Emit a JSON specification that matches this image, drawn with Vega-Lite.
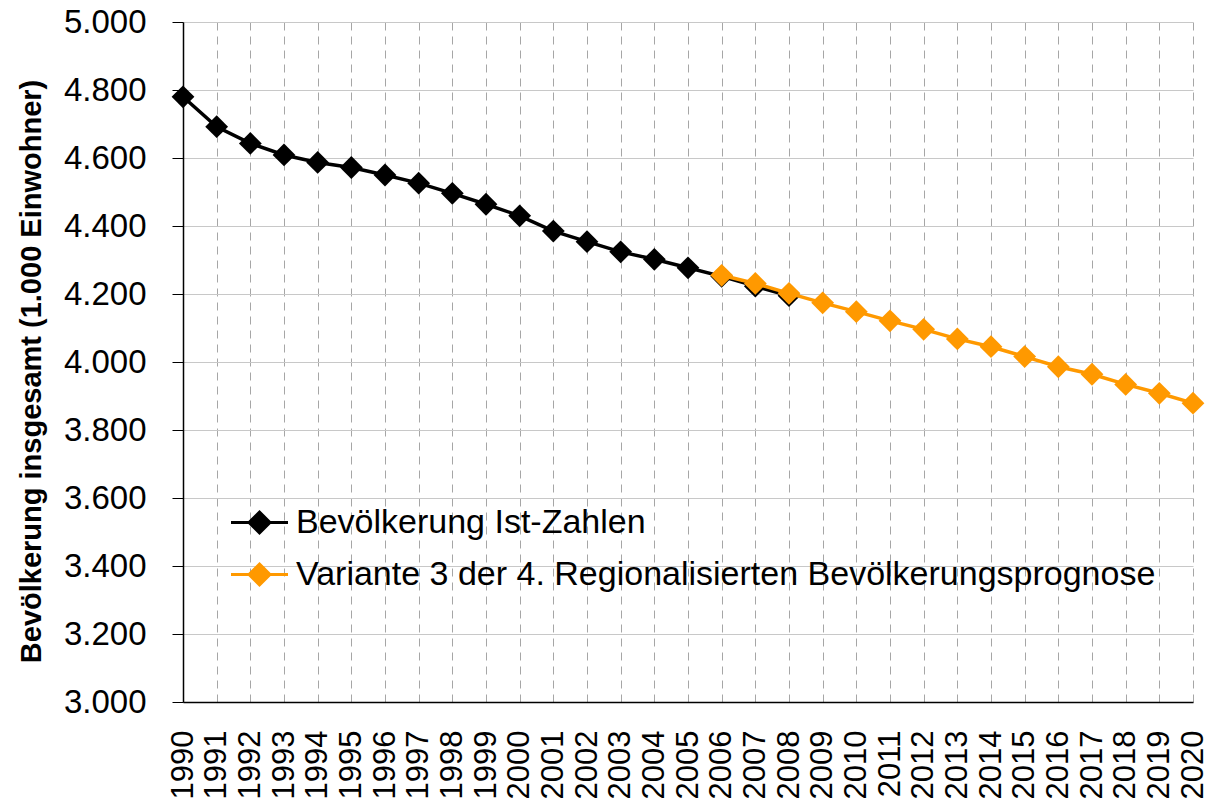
{
  "$schema": "https://vega.github.io/schema/vega-lite/v6.json",
  "width": 1010,
  "height": 680,
  "autosize": "none",
  "padding": {"left": 183, "top": 22, "right": 15, "bottom": 105},
  "background": "white",
  "config": {"view": {"stroke": null}, "font": "Liberation Sans"},
  "data": {"values": [
    {"year": 1990, "value": 4780, "series": "Bevölkerung Ist-Zahlen"},
    {"year": 1991, "value": 4692, "series": "Bevölkerung Ist-Zahlen"},
    {"year": 1992, "value": 4643, "series": "Bevölkerung Ist-Zahlen"},
    {"year": 1993, "value": 4609, "series": "Bevölkerung Ist-Zahlen"},
    {"year": 1994, "value": 4587, "series": "Bevölkerung Ist-Zahlen"},
    {"year": 1995, "value": 4572, "series": "Bevölkerung Ist-Zahlen"},
    {"year": 1996, "value": 4550, "series": "Bevölkerung Ist-Zahlen"},
    {"year": 1997, "value": 4526, "series": "Bevölkerung Ist-Zahlen"},
    {"year": 1998, "value": 4496, "series": "Bevölkerung Ist-Zahlen"},
    {"year": 1999, "value": 4464, "series": "Bevölkerung Ist-Zahlen"},
    {"year": 2000, "value": 4430, "series": "Bevölkerung Ist-Zahlen"},
    {"year": 2001, "value": 4385, "series": "Bevölkerung Ist-Zahlen"},
    {"year": 2002, "value": 4354, "series": "Bevölkerung Ist-Zahlen"},
    {"year": 2003, "value": 4324, "series": "Bevölkerung Ist-Zahlen"},
    {"year": 2004, "value": 4302, "series": "Bevölkerung Ist-Zahlen"},
    {"year": 2005, "value": 4277, "series": "Bevölkerung Ist-Zahlen"},
    {"year": 2006, "value": 4252, "series": "Bevölkerung Ist-Zahlen"},
    {"year": 2007, "value": 4223, "series": "Bevölkerung Ist-Zahlen"},
    {"year": 2008, "value": 4195, "series": "Bevölkerung Ist-Zahlen"},
    {"year": 2006, "value": 4255, "series": "Variante 3 der 4. Regionalisierten Bevölkerungsprognose"},
    {"year": 2007, "value": 4231, "series": "Variante 3 der 4. Regionalisierten Bevölkerungsprognose"},
    {"year": 2008, "value": 4202, "series": "Variante 3 der 4. Regionalisierten Bevölkerungsprognose"},
    {"year": 2009, "value": 4174, "series": "Variante 3 der 4. Regionalisierten Bevölkerungsprognose"},
    {"year": 2010, "value": 4148, "series": "Variante 3 der 4. Regionalisierten Bevölkerungsprognose"},
    {"year": 2011, "value": 4121, "series": "Variante 3 der 4. Regionalisierten Bevölkerungsprognose"},
    {"year": 2012, "value": 4096, "series": "Variante 3 der 4. Regionalisierten Bevölkerungsprognose"},
    {"year": 2013, "value": 4068, "series": "Variante 3 der 4. Regionalisierten Bevölkerungsprognose"},
    {"year": 2014, "value": 4045, "series": "Variante 3 der 4. Regionalisierten Bevölkerungsprognose"},
    {"year": 2015, "value": 4016, "series": "Variante 3 der 4. Regionalisierten Bevölkerungsprognose"},
    {"year": 2016, "value": 3986, "series": "Variante 3 der 4. Regionalisierten Bevölkerungsprognose"},
    {"year": 2017, "value": 3964, "series": "Variante 3 der 4. Regionalisierten Bevölkerungsprognose"},
    {"year": 2018, "value": 3934, "series": "Variante 3 der 4. Regionalisierten Bevölkerungsprognose"},
    {"year": 2019, "value": 3908, "series": "Variante 3 der 4. Regionalisierten Bevölkerungsprognose"},
    {"year": 2020, "value": 3879, "series": "Variante 3 der 4. Regionalisierten Bevölkerungsprognose"}
  ]},
  "encoding": {
    "x": {
      "field": "year", "type": "quantitative",
      "scale": {"domain": [1990, 2020], "nice": false, "zero": false},
      "axis": {
        "title": null,
        "values": [1990,1991,1992,1993,1994,1995,1996,1997,1998,1999,2000,2001,2002,2003,2004,2005,2006,2007,2008,2009,2010,2011,2012,2013,2014,2015,2016,2017,2018,2019,2020],
        "format": "d",
        "labelAngle": 270,
        "labelAlign": "right",
        "labelBaseline": "middle",
        "labelPadding": 28,
        "labelFontSize": 31,
        "labelColor": "black",
        "labelOverlap": false,
        "labelFlush": false,
        "ticks": false,
        "domainColor": "black",
        "domainWidth": 1.5,
        "grid": true,
        "gridColor": "#a6a6a6",
        "gridDash": [8, 6],
        "gridWidth": 1
      }
    },
    "y": {
      "field": "value", "type": "quantitative",
      "scale": {"domain": [3000, 5000], "nice": false, "zero": false},
      "axis": {
        "values": [3000,3200,3400,3600,3800,4000,4200,4400,4600,4800,5000],
        "labelExpr": "replace(format(datum.value, ','), ',', '.')",
        "labelFontSize": 33,
        "labelColor": "black",
        "labelPadding": 26,
        "tickSize": 11,
        "tickColor": "black",
        "domainColor": "black",
        "domainWidth": 1.5,
        "grid": true,
        "gridColor": "#c8c8c8",
        "gridWidth": 1,
        "title": "Bevölkerung insgesamt (1.000 Einwohner)",
        "titleFontSize": 29,
        "titleFontWeight": "bold",
        "titleColor": "black",
        "titleAngle": 270,
        "titleX": -152,
        "titleY": 349,
        "titleAlign": "center",
        "titleBaseline": "middle"
      }
    },
    "color": {
      "field": "series", "type": "nominal",
      "scale": {
        "domain": ["Bevölkerung Ist-Zahlen", "Variante 3 der 4. Regionalisierten Bevölkerungsprognose"],
        "range": ["#000000", "#FF9900"]
      },
      "legend": {
        "orient": "none",
        "legendX": 56,
        "legendY": 480,
        "title": null,
        "padding": 0,
        "labelFontSize": 34,
        "labelColor": "black",
        "labelLimit": 1000,
        "symbolType": "M-1.5,0L1.5,0M0,-0.55L0.55,0L0,0.55L-0.55,0Z",
        "symbolSize": 1444,
        "symbolStrokeWidth": 3,
        "symbolOpacity": 1,
        "rowPadding": 14,
        "labelOffset": 16,
        "encode": {
          "symbols": {
            "update": {
              "fill": {"scale": "color", "field": "value"},
              "stroke": {"scale": "color", "field": "value"},
              "opacity": {"value": 1}
            }
          }
        }
      }
    }
  },
  "layer": [
    {
      "transform": [{"filter": "datum.series == 'Bevölkerung Ist-Zahlen'"}],
      "mark": {"type": "line", "strokeWidth": 3.5}
    },
    {
      "transform": [{"filter": "datum.series == 'Bevölkerung Ist-Zahlen'"}],
      "mark": {"type": "point", "shape": "diamond", "filled": true, "size": 520, "opacity": 1}
    },
    {
      "transform": [{"filter": "datum.series != 'Bevölkerung Ist-Zahlen'"}],
      "mark": {"type": "line", "strokeWidth": 3.5}
    },
    {
      "transform": [{"filter": "datum.series != 'Bevölkerung Ist-Zahlen'"}],
      "mark": {"type": "point", "shape": "diamond", "filled": true, "size": 520, "opacity": 1}
    }
  ]
}
